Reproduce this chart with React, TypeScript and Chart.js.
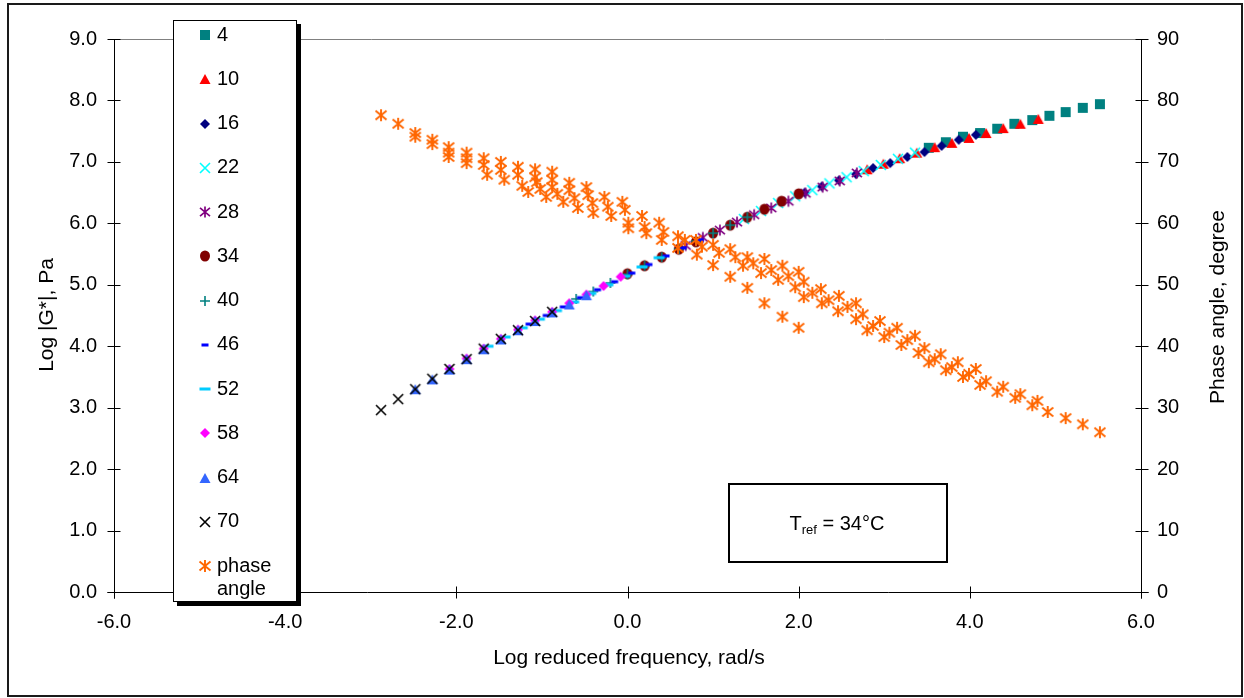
import React, { useEffect, useRef } from 'react';
import { Chart, registerables } from 'chart.js';

Chart.register(...registerables);

const FONT = '"Liberation Sans", Arial, Helvetica, sans-serif';

// ---- Data: log reduced frequency (rad/s) and log |G*| (Pa) per test temperature (°C) ----
const temperatures = ['4', '10', '16', '22', '28', '34', '40', '46', '52', '58', '64', '70'];

const logFreq4 = [3.52, 3.72, 3.92, 4.12, 4.32, 4.52, 4.73, 4.93, 5.12, 5.32, 5.52];
const logG4 = [7.23, 7.32, 7.41, 7.47, 7.54, 7.62, 7.68, 7.75, 7.81, 7.88, 7.94];

const logFreq10 = [2.80, 2.99, 3.18, 3.38, 3.59, 3.79, 3.99, 4.19, 4.39, 4.59, 4.80];
const logG10 = [6.88, 6.97, 7.06, 7.15, 7.24, 7.31, 7.39, 7.47, 7.55, 7.62, 7.70];

const logFreq16 = [2.07, 2.27, 2.47, 2.67, 2.87, 3.07, 3.27, 3.47, 3.67, 3.87, 4.07];
const logG16 = [6.50, 6.60, 6.70, 6.80, 6.90, 6.98, 7.08, 7.16, 7.26, 7.36, 7.44];

const logFreq22 = [1.36, 1.56, 1.76, 1.96, 2.16, 2.36, 2.56, 2.76, 2.96, 3.16, 3.36];
const logG22 = [6.07, 6.20, 6.33, 6.44, 6.54, 6.65, 6.75, 6.85, 6.95, 7.05, 7.15];

const logFreq28 = [0.68, 0.88, 1.08, 1.28, 1.48, 1.68, 1.88, 2.08, 2.28, 2.48, 2.68];
const logG28 = [5.64, 5.77, 5.89, 6.02, 6.14, 6.25, 6.36, 6.49, 6.59, 6.69, 6.82];

const logFreq34 = [0.0, 0.2, 0.4, 0.6, 0.8, 1.0, 1.2, 1.4, 1.6, 1.8, 2.0];
const logG34 = [5.18, 5.31, 5.45, 5.58, 5.70, 5.84, 5.97, 6.10, 6.23, 6.36, 6.48];

const logFreq40 = [-0.60, -0.40, -0.20, 0.00, 0.20, 0.40, 0.60, 0.80, 1.00, 1.20, 1.40];
const logG40 = [4.77, 4.89, 5.03, 5.17, 5.31, 5.45, 5.58, 5.71, 5.84, 5.97, 6.10];

const logFreq46 = [-1.15, -0.95, -0.75, -0.55, -0.35, -0.15, 0.05, 0.25, 0.45, 0.65, 0.85];
const logG46 = [4.36, 4.50, 4.64, 4.79, 4.92, 5.05, 5.19, 5.33, 5.47, 5.60, 5.73];

const logFreq52 = [-1.63, -1.43, -1.23, -1.03, -0.83, -0.63, -0.43, -0.23, -0.03, 0.17, 0.37];
const logG52 = [4.00, 4.15, 4.30, 4.44, 4.58, 4.72, 4.86, 5.00, 5.14, 5.29, 5.44];

const logFreq58 = [-2.08, -1.88, -1.68, -1.48, -1.28, -1.08, -0.88, -0.68, -0.48, -0.28, -0.08];
const logG58 = [3.63, 3.80, 3.96, 4.12, 4.27, 4.42, 4.56, 4.70, 4.84, 4.98, 5.13];

const logFreq64 = [-2.48, -2.28, -2.08, -1.88, -1.68, -1.48, -1.28, -1.08, -0.88, -0.68, -0.48];
const logG64 = [3.30, 3.46, 3.62, 3.79, 3.95, 4.11, 4.26, 4.41, 4.55, 4.68, 4.83];

const logFreq70 = [-2.88, -2.68, -2.48, -2.28, -2.08, -1.88, -1.68, -1.48, -1.28, -1.08, -0.88];
const logG70 = [2.96, 3.14, 3.30, 3.47, 3.63, 3.79, 3.96, 4.12, 4.26, 4.41, 4.56];

// ---- Phase angle (degree) vs log reduced frequency, all temperatures ----
const phaseFreq = [
  -2.88, -2.68, -2.48, -2.48, -2.28, -2.28, -2.09, -2.09, -2.09, -1.88, -1.88, -1.88,
  -1.68, -1.68, -1.64, -1.48, -1.48, -1.44, -1.28, -1.28, -1.23, -1.16, -1.08, -1.08,
  -1.06, -1.02, -0.95, -0.88, -0.88, -0.88, -0.82, -0.75, -0.68, -0.68, -0.62, -0.58,
  -0.48, -0.46, -0.41, -0.40, -0.27, -0.23, -0.19, -0.06, -0.03, 0.01, 0.01, 0.17,
  0.20, 0.22, 0.37, 0.42, 0.40, 0.59, 0.59, 0.67, 0.80, 0.81, 0.87, 1.00,
  1.07, 1.00, 1.20, 1.26, 1.20, 1.40, 1.35, 1.40, 1.60, 1.47, 1.56, 1.60,
  1.81, 1.68, 1.76, 1.81, 2.00, 1.88, 1.96, 2.00, 2.06, 2.06, 2.16, 2.26,
  2.27, 2.35, 2.47, 2.46, 2.57, 2.67, 2.67, 2.75, 2.80, 2.87, 2.95, 3.00,
  3.06, 3.15, 3.20, 3.27, 3.36, 3.40, 3.47, 3.52, 3.59, 3.66, 3.72, 3.79,
  3.86, 3.92, 3.99, 4.07, 4.12, 4.19, 4.32, 4.39, 4.53, 4.59, 4.73, 4.79,
  4.91, 5.12, 5.32, 5.52,
];
const phaseAngle = [
  77.6, 76.2, 74.7, 74.1, 73.6, 72.9, 72.4, 71.5, 70.8, 71.5, 70.6, 69.8,
  70.6, 69.5, 67.9, 70.0, 68.7, 67.1, 69.2, 67.9, 66.1, 65.1, 68.8, 67.5,
  66.7, 65.6, 64.3, 68.4, 67.1, 65.9, 64.8, 63.5, 66.6, 65.4, 64.1, 62.5,
  65.9, 64.6, 63.3, 61.7, 64.3, 62.7, 61.2, 63.5, 62.2, 60.1, 59.2, 61.2,
  59.4, 58.4, 60.1, 58.6, 57.3, 57.9, 56.0, 57.3, 57.3, 54.9, 56.2, 56.5,
  55.2, 53.2, 55.8, 54.5, 51.3, 54.5, 53.1, 49.5, 54.2, 53.5, 51.9, 47.0,
  53.1, 52.4, 50.8, 44.8, 52.1, 51.4, 49.6, 43.0, 50.5, 48.0, 48.7, 49.3,
  47.0, 47.5, 48.2, 45.7, 46.4, 47.0, 44.4, 45.2, 42.6, 43.3, 44.1, 41.5,
  42.2, 43.0, 40.2, 41.0, 41.7, 38.9, 39.7, 37.4, 37.9, 38.7, 36.1, 36.6,
  37.4, 35.0, 35.5, 36.3, 33.7, 34.3, 32.6, 33.4, 31.6, 32.2, 30.4, 31.1,
  29.3, 28.3, 27.3, 26.0,
];

const xTickLabels = ['-6.0', '-4.0', '-2.0', '0.0', '2.0', '4.0', '6.0'];
const leftTickLabels = ['0.0', '1.0', '2.0', '3.0', '4.0', '5.0', '6.0', '7.0', '8.0', '9.0'];
const rightTickLabels = ['0', '10', '20', '30', '40', '50', '60', '70', '80', '90'];

type Kind = 'square' | 'triangle' | 'diamond' | 'x' | 'star' | 'circle' | 'plus' | 'dash';

function makeMarker(kind: Kind, color: string, w: number, h: number = w, lw = 1.5): HTMLCanvasElement {
  const pad = 2;
  let cw = Math.ceil(w) + pad * 2;
  let ch = Math.ceil(h) + pad * 2;
  if (cw % 2) cw++;
  if (ch % 2) ch++;
  const c = document.createElement('canvas');
  c.width = cw;
  c.height = ch;
  const ctx = c.getContext('2d')!;
  const cx = cw / 2, cy = ch / 2, rx = w / 2, ry = h / 2;
  ctx.fillStyle = color;
  ctx.strokeStyle = color;
  ctx.lineWidth = lw;
  ctx.beginPath();
  switch (kind) {
    case 'square':
    case 'dash':
      ctx.fillRect(cx - rx, cy - ry, w, h);
      break;
    case 'triangle':
      ctx.moveTo(cx, cy - ry);
      ctx.lineTo(cx + rx, cy + ry);
      ctx.lineTo(cx - rx, cy + ry);
      ctx.closePath();
      ctx.fill();
      break;
    case 'diamond':
      ctx.moveTo(cx, cy - ry);
      ctx.lineTo(cx + rx, cy);
      ctx.lineTo(cx, cy + ry);
      ctx.lineTo(cx - rx, cy);
      ctx.closePath();
      ctx.fill();
      break;
    case 'circle':
      ctx.ellipse(cx, cy, rx, ry, 0, 0, Math.PI * 2);
      ctx.fill();
      break;
    case 'x':
      ctx.moveTo(cx - rx, cy - ry);
      ctx.lineTo(cx + rx, cy + ry);
      ctx.moveTo(cx + rx, cy - ry);
      ctx.lineTo(cx - rx, cy + ry);
      ctx.stroke();
      break;
    case 'star':
      ctx.moveTo(cx - rx, cy - ry * 0.75);
      ctx.lineTo(cx + rx, cy + ry * 0.75);
      ctx.moveTo(cx + rx, cy - ry * 0.75);
      ctx.lineTo(cx - rx, cy + ry * 0.75);
      ctx.moveTo(cx, cy - ry);
      ctx.lineTo(cx, cy + ry);
      ctx.stroke();
      break;
    case 'plus':
      ctx.moveTo(cx - rx, cy);
      ctx.lineTo(cx + rx, cy);
      ctx.moveTo(cx, cy - ry);
      ctx.lineTo(cx, cy + ry);
      ctx.stroke();
      break;
  }
  return c;
}

export default function App() {
  const ref = useRef<HTMLCanvasElement | null>(null);

  useEffect(() => {
    const canvas = ref.current;
    if (!canvas) return;

    const markers: HTMLCanvasElement[] = [
      makeMarker('square', '#008080', 10),
      makeMarker('triangle', '#FF0000', 11, 10),
      makeMarker('diamond', '#000080', 10),
      makeMarker('x', '#00FFFF', 10, 10, 1.6),
      makeMarker('star', '#800080', 10, 11, 1.7),
      makeMarker('circle', '#800000', 10, 11),
      makeMarker('plus', '#008080', 10, 10, 1.6),
      makeMarker('dash', '#0000FF', 7, 3),
      makeMarker('dash', '#00CCFF', 11, 3),
      makeMarker('diamond', '#FF00FF', 10),
      makeMarker('triangle', '#3366FF', 11, 10),
      makeMarker('x', '#000000', 10, 10, 1.6),
    ];
    const phaseMarker = makeMarker('star', '#FF6600', 11, 12, 1.9);

    const freqSets = [logFreq4, logFreq10, logFreq16, logFreq22, logFreq28, logFreq34, logFreq40, logFreq46, logFreq52, logFreq58, logFreq64, logFreq70];
    const gSets = [logG4, logG10, logG16, logG22, logG28, logG34, logG40, logG46, logG52, logG58, logG64, logG70];

    const n = temperatures.length + 1;
    const datasets: any[] = temperatures.map((t, i) => ({
      label: t,
      data: freqSets[i].map((x, j) => ({ x, y: gSets[i][j] })),
      yAxisID: 'y',
      pointStyle: markers[i],
      pointRadius: 5,
      showLine: false,
      order: n - i,
    }));
    datasets.push({
      label: 'phase angle',
      data: phaseFreq.map((x, j) => ({ x, y: phaseAngle[j] })),
      yAxisID: 'y2',
      pointStyle: phaseMarker,
      pointRadius: 5,
      showLine: false,
      order: 0,
    });

    const tickFont = { family: FONT, size: 20 };

    const deco = {
      id: 'deco',
      beforeDraw(chart: any) {
        const ctx = chart.ctx as CanvasRenderingContext2D;
        ctx.save();
        ctx.fillStyle = '#ffffff';
        ctx.fillRect(0, 0, chart.width, chart.height);
        ctx.strokeStyle = '#1a1a1a';
        ctx.lineWidth = 2;
        ctx.strokeRect(8, 4, 1234, 692);
        ctx.restore();
      },
      beforeDatasetsDraw(chart: any) {
        const ctx = chart.ctx as CanvasRenderingContext2D;
        const a = chart.chartArea;
        const sx = chart.scales.x, sy = chart.scales.y, sy2 = chart.scales.y2;
        const line = (x1: number, y1: number, x2: number, y2: number) => {
          ctx.beginPath();
          ctx.moveTo(x1, y1);
          ctx.lineTo(x2, y2);
          ctx.stroke();
        };
        ctx.save();
        ctx.lineWidth = 1;
        const lx = Math.round(a.left) + 0.5;
        const rx = Math.round(a.right) + 0.5;
        const ty = Math.round(a.top) + 0.5;
        const by = Math.round(a.bottom) + 0.5;
        ctx.strokeStyle = '#808080';
        line(lx, ty, rx, ty);
        ctx.strokeStyle = '#000000';
        line(lx, ty, lx, by + 6);
        line(rx, ty, rx, by + 6);
        line(lx - 7, by, rx + 7, by);
        sy.ticks.forEach((t: any) => {
          const y = Math.round(sy.getPixelForValue(t.value)) + 0.5;
          line(lx - 7, y, lx + 6, y);
        });
        sy2.ticks.forEach((t: any) => {
          const y = Math.round(sy2.getPixelForValue(t.value)) + 0.5;
          line(rx - 6, y, rx + 7, y);
        });
        sx.ticks.forEach((t: any) => {
          const x = Math.round(sx.getPixelForValue(t.value)) + 0.5;
          line(x, by - 6, x, by + 6);
        });
        ctx.restore();
      },
      afterDraw(chart: any) {
        const ctx = chart.ctx as CanvasRenderingContext2D;
        ctx.save();
        ctx.fillStyle = '#000';
        ctx.font = `21px ${FONT}`;
        ctx.textBaseline = 'middle';
        ctx.textAlign = 'center';
        // axis titles
        ctx.fillText('Log reduced frequency, rad/s', 629, 658);
        ctx.save();
        ctx.translate(47, 315);
        ctx.rotate(-Math.PI / 2);
        ctx.fillText('Log |G*|, Pa', 0, 0);
        ctx.restore();
        ctx.save();
        ctx.translate(1218, 307);
        ctx.rotate(-Math.PI / 2);
        ctx.fillText('Phase angle, degree', 0, 0);
        ctx.restore();

        // legend box
        ctx.font = `20px ${FONT}`;
        ctx.fillStyle = '#000';
        ctx.fillRect(297, 24, 4, 582);
        ctx.fillRect(177, 602, 124, 4);
        ctx.fillStyle = '#fff';
        ctx.fillRect(173, 20, 124, 582);
        ctx.strokeStyle = '#000';
        ctx.lineWidth = 1;
        ctx.strokeRect(173.5, 20.5, 123, 581);
        ctx.fillStyle = '#000';
        ctx.textAlign = 'left';
        const labels = [...temperatures, 'phase'];
        const allMarkers = [...markers, phaseMarker];
        labels.forEach((lab, i) => {
          const y = 35 + i * 44.25;
          const m = allMarkers[i];
          ctx.drawImage(m, Math.round(205 - m.width / 2), Math.round(y - m.height / 2));
          ctx.fillText(lab, 217, y);
        });
        ctx.fillText('angle', 217, 35 + 12 * 44.25 + 23);

        // T_ref box
        ctx.lineWidth = 2;
        ctx.strokeRect(729, 484, 218, 78);
        ctx.textBaseline = 'alphabetic';
        ctx.font = `20px ${FONT}`;
        const wT = ctx.measureText('T').width;
        const wEq = ctx.measureText(' = 34°C').width;
        ctx.font = `13px ${FONT}`;
        const wSub = ctx.measureText('ref').width;
        const total = wT + wSub + wEq;
        let x0 = 837 - total / 2;
        ctx.font = `20px ${FONT}`;
        ctx.fillText('T', x0, 530);
        x0 += wT;
        ctx.font = `13px ${FONT}`;
        ctx.fillText('ref', x0, 534);
        x0 += wSub;
        ctx.font = `20px ${FONT}`;
        ctx.fillText(' = 34°C', x0, 530);
        ctx.restore();
      },
    };

    const chart = new Chart(canvas, {
      type: 'scatter',
      data: { datasets },
      options: {
        animation: false,
        responsive: false,
        devicePixelRatio: 1,
        events: [],
        layout: { padding: { top: 39, left: 0, right: 0, bottom: 0 } },
        plugins: { legend: { display: false }, tooltip: { enabled: false } },
        scales: {
          x: {
            type: 'linear',
            position: 'bottom',
            min: -6,
            max: 6,
            grid: { display: false, drawTicks: false },
            border: { display: false },
            ticks: {
              stepSize: 2,
              autoSkip: false,
              maxRotation: 0,
              padding: 18,
              color: '#000',
              font: tickFont,
              callback: (_v: any, i: number) => xTickLabels[i],
            },
            afterFit: (s: any) => { s.height = 106; },
          },
          y: {
            type: 'linear',
            position: 'left',
            min: 0,
            max: 9,
            grid: { display: false, drawTicks: false },
            border: { display: false },
            ticks: {
              stepSize: 1,
              padding: 17,
              color: '#000',
              font: tickFont,
              callback: (_v: any, i: number) => leftTickLabels[i],
            },
            afterFit: (s: any) => { s.width = 114; },
          },
          y2: {
            type: 'linear',
            position: 'right',
            min: 0,
            max: 90,
            grid: { display: false, drawTicks: false },
            border: { display: false },
            ticks: {
              stepSize: 10,
              padding: 16,
              color: '#000',
              font: tickFont,
              callback: (_v: any, i: number) => rightTickLabels[i],
            },
            afterFit: (s: any) => { s.width = 103; },
          },
        },
      } as any,
      plugins: [deco],
    });

    return () => chart.destroy();
  }, []);

  return (
    <div style={{ position: 'fixed', left: 0, top: 0, width: 1244, height: 698, background: '#fff' }}>
      <canvas ref={ref} width={1244} height={698} style={{ display: 'block', width: 1244, height: 698 }} />
    </div>
  );
}
